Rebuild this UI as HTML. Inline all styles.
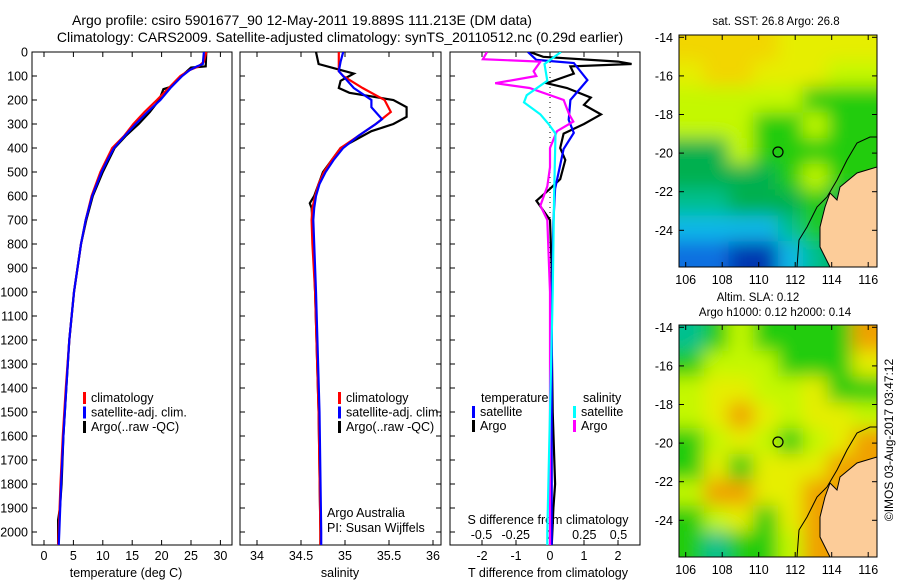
<!DOCTYPE html>
<html><head><meta charset="utf-8"><style>
body{margin:0;background:#fff;}
svg{display:block;font-family:"Liberation Sans",sans-serif;}
</style></head><body>
<svg id="c" width="900" height="580" xmlns="http://www.w3.org/2000/svg">
<defs>
<clipPath id="m1"><rect x="679" y="35" width="198" height="232"/></clipPath>
<clipPath id="m2"><rect x="679" y="325" width="198" height="232"/></clipPath>
<clipPath id="p1"><rect x="32" y="52" width="200" height="493"/></clipPath>
<clipPath id="p2"><rect x="240" y="52" width="201" height="493"/></clipPath>
<clipPath id="p3"><rect x="450" y="52" width="190" height="493"/></clipPath>
<filter id="bl" filterUnits="userSpaceOnUse" x="600" y="0" width="300" height="580"><feGaussianBlur stdDeviation="9"/></filter>
</defs>
<text x="302" y="25" font-size="14" text-anchor="middle">Argo profile: csiro 5901677_90 12-May-2011 19.889S 111.213E (DM data)</text>
<text x="340" y="42" font-size="14" text-anchor="middle">Climatology: CARS2009. Satellite-adjusted climatology: synTS_20110512.nc (0.29d earlier)</text>
<g id="g"></g>
</svg>
<script>
// depth axis
const depthTicks=[0,100,200,300,400,500,600,700,800,900,1000,1100,1200,1300,1400,1500,1600,1700,1800,1900,2000];
// temperature panel
const tempTicks=[0,5,10,15,20,25,30];
const climD=[0,40,60,75,100,150,200,250,300,350,400,450,500,600,700,800,900,1000,1200,1400,1600,1800,2000,2060];
const climT=[27.6,27.2,26.3,24.8,23.2,21.2,19.2,17.1,15.2,13.6,11.6,10.6,9.6,8.1,7.1,6.3,5.7,5.1,4.3,3.7,3.2,2.8,2.5,2.4];
const satD=[0,50,60,75,100,150,200,250,300,350,400,450,500,600,700,800,900,1000,1200,1400,1600,1800,2000,2060];
const satT=[27.2,27.0,26.0,24.8,23.5,21.5,19.8,17.6,15.6,13.7,11.9,10.8,9.8,8.2,7.1,6.3,5.7,5.1,4.3,3.8,3.3,2.9,2.6,2.5];
const argoD=[0,60,65,100,145,155,200,250,300,320,350,400,450,500,600,700,800,900,1000,1200,1400,1600,1800,1900,1950,2050];
const argoT=[27.6,27.5,25.0,23.4,21.6,20.3,19.6,18.0,16.1,15.2,13.9,12.0,11.0,10.0,8.3,7.2,6.3,5.7,5.1,4.3,3.8,3.3,3.0,2.7,2.4,2.4];
// salinity panel
const salTicks=[34,34.5,35,35.5,36];
const salTickLabels=['34','34.5','35','35.5','36'];
const climSD=[0,80,100,150,200,250,300,350,400,450,500,550,600,650,700,800,1000,1500,2000,2060];
const climS=[34.93,34.93,34.98,35.2,35.45,35.52,35.35,35.15,34.95,34.85,34.76,34.7,34.66,34.63,34.62,34.63,34.66,34.7,34.72,34.72];
const satSD=[0,40,80,150,200,230,280,300,350,400,450,500,550,600,650,700,800,1000,1500,2000,2060];
const satS=[34.98,34.95,34.93,35.1,35.3,35.3,35.42,35.35,35.15,34.98,34.87,34.78,34.71,34.67,34.65,34.64,34.65,34.67,34.71,34.73,34.73];
const argoSD=[0,50,70,90,110,120,150,170,200,230,270,300,330,400,500,600,630,650,700,800,1000,1500,2000,2060];
const argoS=[34.67,34.7,34.9,35.1,35.0,34.95,34.93,35.05,35.55,35.7,35.7,35.55,35.3,34.95,34.75,34.65,34.6,34.62,34.63,34.64,34.66,34.7,34.72,34.72];
// difference panel
const tDiffTicks=[-2,-1,0,1,2];
const sDiffTicks=[-0.5,-0.25,0,0.25,0.5];
const sDiffLabels=['-0.5','-0.25','0','0.25','0.5'];
const dSatTD=[0,33,46,117,200,283,337,404,570,708,1000,1500,2060];
const dSatT=[-0.65,-0.4,0.7,1.1,0.6,0.55,0.7,0.4,0.15,0.1,0.06,0.05,0.05];
const dArgoTD=[0,20,40,50,60,90,130,150,190,220,260,300,340,400,450,530,570,620,660,700,900,1200,1500,1800,1900,2060];
const dArgoT=[-0.6,-0.2,2.0,2.4,0.6,0.7,-0.1,0.5,1.2,1.0,1.5,1.0,0.4,0.3,0.45,0.3,0.0,-0.4,-0.2,0.0,0.05,0.05,0.08,0.15,0.1,0.05];
const dArgoSD=[0,30,40,80,100,130,150,200,230,260,290,330,400,480,560,640,700,1000,1500,2060];
const dArgoS=[-0.46,-0.49,-0.07,-0.12,-0.1,-0.4,-0.15,0.1,0.12,0.14,0.17,0.05,0.0,0.0,-0.02,-0.07,-0.02,0.0,0.0,0.0];
const dSatSD=[0,50,120,180,210,260,300,340,600,1000,1500,2000,2060];
const dSatS=[0.08,-0.04,-0.02,-0.17,-0.19,-0.07,-0.01,0.04,0.03,0.02,0.0,-0.02,-0.02];

const NS='http://www.w3.org/2000/svg';
const G=document.getElementById('g');
function mk(tag,at,parent){const e=document.createElementNS(NS,tag);for(const k in at)e.setAttribute(k,at[k]);(parent||G).appendChild(e);return e;}
const yD=d=>52+0.24*d;
const xT=t=>44+5.88*t;
const xS=s=>257+88*(s-34);
const xDT=t=>550+34*t;
const xDS=s=>550+137*s;

function frame(x,y,w,h,name){const r=mk('rect',{x:x,y:y,width:w,height:h,fill:'none',stroke:'#000','stroke-width':1});

}
function line(xs,ds,fx,color,clip,name){
  let p='';for(let i=0;i<xs.length;i++)p+=(i?'L':'M')+fx(xs[i]).toFixed(1)+','+yD(ds[i]).toFixed(1);
  const e=mk('path',{d:p,fill:'none',stroke:color,'stroke-width':2.2,'clip-path':'url(#'+clip+')'});
  
  }
function txt(x,y,s,size,anchor,name){const t=mk('text',{x:x,y:y,'font-size':size,'text-anchor':anchor||'start'});t.textContent=s;
  
  return t;}

frame(32,52,200,493,'temperature-panel');
frame(240,52,201,493,'salinity-panel');
frame(450,52,190,493,'difference-panel');
depthTicks.forEach(d=>{const y=yD(d);
  mk('line',{x1:32,y1:y,x2:37,y2:y,stroke:'#000'});
  mk('line',{x1:240,y1:y,x2:245,y2:y,stroke:'#000'});mk('line',{x1:436,y1:y,x2:441,y2:y,stroke:'#000'});
  mk('line',{x1:450,y1:y,x2:455,y2:y,stroke:'#000'});
  txt(28,y+4.5,String(d),12.5,'end','depth-tick-label');});
tempTicks.forEach(t=>{const x=xT(t);mk('line',{x1:x,y1:545,x2:x,y2:540,stroke:'#000'});mk('line',{x1:x,y1:52,x2:x,y2:57,stroke:'#000'});
  txt(x,560,String(t),12.5,'middle','temperature-tick-label');});
salTicks.forEach((s,i)=>{const x=xS(s);mk('line',{x1:x,y1:545,x2:x,y2:540,stroke:'#000'});mk('line',{x1:x,y1:52,x2:x,y2:57,stroke:'#000'});
  txt(x,560,salTickLabels[i],12.5,'middle','salinity-tick-label');});
tDiffTicks.forEach(t=>{const x=xDT(t);mk('line',{x1:x,y1:545,x2:x,y2:540,stroke:'#000'});mk('line',{x1:x,y1:52,x2:x,y2:57,stroke:'#000'});
  txt(x,560,String(t),12.5,'middle','t-diff-tick-label');});
sDiffTicks.forEach((s,i)=>{txt(xDS(s),539,sDiffLabels[i],12.5,'middle','s-diff-tick-label');});
txt(126,577,'temperature (deg C)',12.5,'middle','temperature-axis-title');
txt(340,577,'salinity',12.5,'middle','salinity-axis-title');
txt(548,577,'T difference from climatology',12.5,'middle','t-diff-axis-title');
txt(548,524,'S difference from climatology',12.5,'middle','s-diff-axis-title');
mk('line',{x1:550,y1:52,x2:550,y2:545,stroke:'#000','stroke-dasharray':'1,4'});

line(argoT,argoD,xT,'#000','p1','argo-temperature-line');
line(climT,climD,xT,'#f00','p1','climatology-temperature-line');
line(satT,satD,xT,'#00f','p1','satellite-temperature-line');
line(argoS,argoSD,xS,'#000','p2','argo-salinity-line');
line(climS,climSD,xS,'#f00','p2','climatology-salinity-line');
line(satS,satSD,xS,'#00f','p2','satellite-salinity-line');
line(dArgoT,dArgoTD,xDT,'#000','p3','argo-t-diff-line');
line(dSatT,dSatTD,xDT,'#00f','p3','satellite-t-diff-line');
line(dArgoS,dArgoSD,xDS,'#f0f','p3','argo-s-diff-line');
line(dSatS,dSatSD,xDS,'#0ff','p3','satellite-s-diff-line');

function leg(x,y,c,s,name){const r=mk('rect',{x:x,y:y-10,width:3,height:12,fill:c});
  
  
  txt(x+8,y,s,12.5,'start',name);}
[['#f00','climatology'],['#00f','satellite-adj. clim.'],['#000','Argo(..raw -QC)']].forEach((e,i)=>{
  leg(83,402+i*14.5,e[0],e[1],'temp-legend-entry');leg(338,402+i*14.5,e[0],e[1],'sal-legend-entry');});
txt(481,402,'temperature',12.5,'start','diff-legend-temperature-header');
leg(472,416,'#00f','satellite','diff-legend-t-satellite');
leg(472,430,'#000','Argo','diff-legend-t-argo');
txt(583,402,'salinity',12.5,'start','diff-legend-salinity-header');
leg(573,416,'#0ff','satellite','diff-legend-s-satellite');
leg(573,430,'#f0f','Argo','diff-legend-s-argo');
txt(327,517,'Argo Australia',12.5,'start','credit-line-1');
txt(327,532,'PI: Susan Wijffels',12.5,'start','credit-line-2');

const mapColors={O:'#f2d600',Y:'#e6ee00',L:'#c4f800',G:'#22cc10',D:'#00b050',T:'#00c090',C:'#10b8e8',B:'#1070e0',N:'#0638b0',R:'#f0a000',A:'#ffb800'};
const sstGrid=['OOOOYYYY','YOOYYYLL','LLLLLGGG','LLLGGLGG','DDLGGGGG','DDDDGLGG','TTDDDGDD','CCCCTGDD','BBNNCTDD'];
const slaGrid=['TGLGGGGR','GLLLGGGY','LYYLLYGG','LYRYLYYL','GLYLGLYR','GYGYYYRR','LRRYYRRR','GLYGYRRR','GTGGLRRR'];
function drawMap(grid,y0,clip,name){
  const g=mk('g',{'clip-path':'url(#'+clip+')'});
  
  
  const inner=mk('g',{filter:'url(#bl)'},g);
  const cw=198/8,ch=232/9;
  grid.forEach((row,r)=>{for(let c=0;c<8;c++){
    const x=679+c*cw-(c===0?20:0), y=y0+r*ch-(r===0?20:0);
    const w=cw+(c===0?20:0)+(c===7?20:0), h=ch+(r===0?20:0)+(r===8?20:0);
    mk('rect',{x:x,y:y,width:w+0.5,height:h+0.5,fill:mapColors[row[c]]},inner);}});
  const dy=y0-35;
  mk('path',{d:`M877,${167+dy}L857,${173+dy}L840,${187+dy}L837,${200+dy}L830,${193+dy}L825,${207+dy}L820,${227+dy}L820,${247+dy}L830,${267+dy}L877,${267+dy}Z`,fill:'#fccc99',stroke:'#000','stroke-width':1},g);
  mk('path',{d:`M877,${137+dy}L870,${137+dy}L857,${143+dy}L847,${160+dy}L837,${180+dy}L827,${197+dy}L817,${207+dy}L807,${227+dy}L799,${240+dy}L797,${267+dy}`,fill:'none',stroke:'#000','stroke-width':1},g);
  const ci=mk('circle',{cx:778,cy:152+dy,r:5,fill:'none',stroke:'#000','stroke-width':1.2});
  
  
  frame(679,y0,198,232,name+'-frame');
  [-14,-16,-18,-20,-22,-24].forEach(l=>{const y=37.3+(-14-l)*19.3+dy;
    mk('line',{x1:679,y1:y,x2:684,y2:y,stroke:'#000'});mk('line',{x1:872,y1:y,x2:877,y2:y,stroke:'#000'});
    txt(673,y+4.5,String(l),12.5,'end','lat-tick-label');});
  [106,108,110,112,114,116].forEach(l=>{const x=685.7+(l-106)*18.25;
    mk('line',{x1:x,y1:y0,x2:x,y2:y0+5,stroke:'#000'});mk('line',{x1:x,y1:y0+232,x2:x,y2:y0+227,stroke:'#000'});
    txt(x,y0+249,String(l),12.5,'middle','lon-tick-label');});
}
drawMap(sstGrid,35,'m1','sst-map');
drawMap(slaGrid,325,'m2','sla-map');
txt(776,25,'sat. SST: 26.8 Argo: 26.8',11.5,'middle','sst-map-title');
txt(758,301,'Altim. SLA: 0.12',11.5,'middle','sla-map-title');
txt(775,316,'Argo h1000: 0.12 h2000: 0.14',11.5,'middle','sla-map-subtitle');
const rt=txt(0,0,'©IMOS 03-Aug-2017 03:47:12',12,'middle','timestamp');
rt.setAttribute('transform','translate(893,440) rotate(-90)');
</script>
</body></html>
